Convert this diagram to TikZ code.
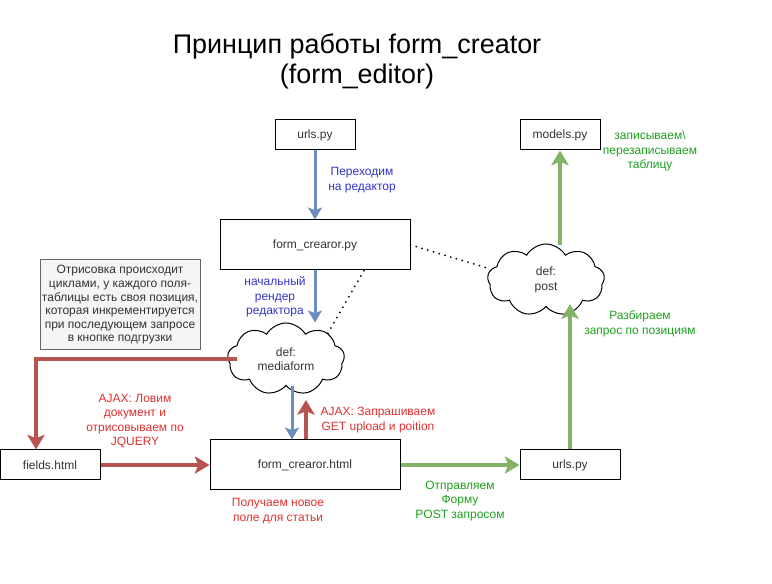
\documentclass[tikz,border=0pt]{standalone}
\usepackage{fontspec}
\setmainfont{Liberation Sans}
\usetikzlibrary{positioning, arrows.meta, shapes.symbols, calc}
\definecolor{flowblue}{HTML}{6C8EBF}
\definecolor{flowred}{HTML}{B85450}
\definecolor{flowgreen}{HTML}{82B366}
\definecolor{txtblue}{HTML}{3333CC}
\definecolor{txtred}{HTML}{E03030}
\definecolor{txtgreen}{RGB}{30,160,30}
\definecolor{noteink}{HTML}{333333}
\definecolor{noteline}{HTML}{666666}
\definecolor{notefill}{HTML}{F5F5F5}
\def\pxl{0.75pt}
\tikzset{
  box/.style={draw=black, line width=\pxl, fill=white, inner sep=0pt,
    font=\fontsize{9}{10.8}\selectfont, text=noteink},
  puff/.style={cloud, cloud puffs=9, cloud puff arc=120, aspect=1.6,
    draw=black, line width=\pxl, fill=white, inner sep=0pt,
    minimum width=117*\pxl, minimum height=72*\pxl, align=center,
    font=\fontsize{9}{10.8}\selectfont, text=noteink},
  lbl/.style={align=center, inner sep=0pt, font=\fontsize{9}{10.8}\selectfont},
  bluearrow/.style={draw=flowblue, line width=3*\pxl,
    -{Stealth[length=9pt, width=10.5pt, inset=2pt]}},
  redarrow/.style={draw=flowred, line width=4*\pxl,
    -{Stealth[length=11pt, width=13pt, inset=2.5pt]}},
  greenarrow/.style={draw=flowgreen, line width=4*\pxl,
    -{Stealth[length=11pt, width=13pt, inset=2.5pt]}},
  dots/.style={draw=black, line width=2*\pxl, line cap=round,
    dash pattern=on 0pt off 4.5pt},
}

\begin{document}
\begin{tikzpicture}[x=\pxl, y=-\pxl]
\useasboundingbox (0,0) rectangle (772,584);

\node[align=center, font=\fontsize{20.2}{22.5}\selectfont] (title) at (357,61)
  {Принцип работы form\_creator\\(form\_editor)};

% boxes
\node[box, minimum width=80*\pxl, minimum height=30*\pxl] (urlsTop) at (315,135) {urls.py};
\node[box, minimum width=190*\pxl, minimum height=50*\pxl] (formPy) at (315,245) {form\_crearor.py};
\node[box, minimum width=80*\pxl, minimum height=30*\pxl] (modelsPy) at (560,135) {models.py};
\node[box, minimum width=100*\pxl, minimum height=30*\pxl] (fieldsHtml) at (50,465) {fields.html};
\node[box, minimum width=190*\pxl, minimum height=50*\pxl] (formHtml) at (305,465) {form\_crearor.html};
\node[box, minimum width=100*\pxl, minimum height=30*\pxl] (urlsBottom) at (570,465) {urls.py};

\node[draw=noteline, fill=notefill, line width=\pxl, text=noteink, align=center,
  minimum width=160*\pxl, minimum height=90*\pxl, inner sep=0pt,
  font=\fontsize{9}{10.2}\selectfont] (note) at (120,305)
  {Отрисовка происходит\\циклами, у каждого поля-\\таблицы есть своя позиция,\\которая инкрементируется\\при последующем запросе\\в кнопке подгрузки};

\node[puff] (mediaform) at (286,359) {def:\\mediaform};
\node[puff] (post) at (546,280) {def:\\post};

\coordinate (ajaxTip) at (306,400);

% arrows
\draw[bluearrow] (urlsTop.south) -- (formPy.south |- formPy.north);
\draw[bluearrow] (formPy.south) -- (formPy.south |- mediaform.north);
\draw[bluearrow] ([xshift=6*\pxl]mediaform.south) -- ([xshift=6*\pxl]mediaform.south |- formHtml.north);
\draw[redarrow] (formHtml.north -| ajaxTip) -- (ajaxTip);
\draw[redarrow] ([xshift=10*\pxl]mediaform.west) -| ([xshift=-14*\pxl]fieldsHtml.north);
\draw[redarrow] (fieldsHtml.east) -- (formHtml.west);
\draw[greenarrow] (formHtml.east) -- (urlsBottom.west);
\draw[greenarrow] (urlsBottom.north) -- ([yshift=3*\pxl]urlsBottom.north |- post.south);
\draw[greenarrow] ([yshift=-2*\pxl]modelsPy.south |- post.north) -- (modelsPy.south);

\draw[dots] (formPy.east) -- ([yshift=12*\pxl]post.west);
\draw[dots] (mediaform.north east) -- ([xshift=49*\pxl]formPy.south);

% labels
\node[lbl, text=txtblue] (lblGo) at (362,180) {Переходим\\на редактор};
\node[lbl, text=txtblue] (lblRender) at (275,297) {начальный\\рендер\\редактора};
\node[lbl, text=txtgreen] (lblWrite) at (650,151) {записываем\textbackslash\\перезаписываем\\таблицу};
\node[lbl, text=txtgreen] (lblParse) at (640,324) {Разбираем\\запрос по позициям};
\node[lbl, text=txtred] (lblCatch) at (135,421) {AJAX: Ловим\\документ и\\отрисовываем по\\JQUERY};
\node[lbl, text=txtred] (lblAsk) at (378,420) {AJAX: Запрашиваем\\GET upload и poition};
\node[lbl, text=txtred] (lblNew) at (278,511) {Получаем новое\\поле для статьи};
\node[lbl, text=txtgreen] (lblSend) at (460,501) {Отправляем\\Форму\\POST запросом};
\end{tikzpicture}
\end{document}
